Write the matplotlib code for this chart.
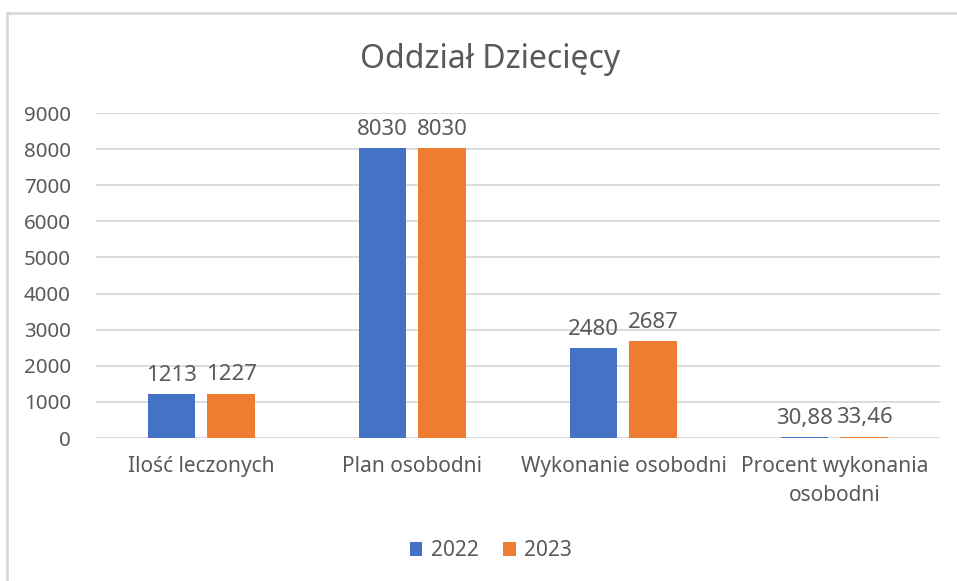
import numpy as np
import matplotlib.pyplot as plt
from matplotlib.lines import Line2D

# data
categories = ["Ilość leczonych", "Plan osobodni", "Wykonanie osobodni", "Procent wykonania\nosobodni"]
years = ["2022", "2023"]
values_2022 = [1213, 8030, 2480, 30.88]
values_2023 = [1227, 8030, 2687, 33.46]
labels_2022 = ["1213", "8030", "2480", "30,88"]
labels_2023 = ["1227", "8030", "2687", "33,46"]

BLUE = "#4472C4"
ORANGE = "#ED7D31"
TEXT = "#595959"
GRID = "#D9D9D9"

plt.rcParams['font.family'] = ['Noto Sans', 'DejaVu Sans']

fig = plt.figure(figsize=(9.57, 5.81), dpi=100)
ax = fig.add_axes([0.1003, 0.2461, 0.8819, 0.5594])

x = np.arange(len(categories))
w = 0.227
off = (w + 0.057) / 2
b1 = ax.bar(x - off, values_2022, w, color=BLUE, label=years[0], zorder=3)
b2 = ax.bar(x + off, values_2023, w, color=ORANGE, label=years[1], zorder=3)

for bars, labs in [(b1, labels_2022), (b2, labels_2023)]:
    for b, lab in zip(bars, labs):
        ax.annotate(lab, (b.get_x() + b.get_width() / 2, b.get_height()),
                    xytext=(0, 6), textcoords="offset points",
                    ha="center", va="bottom", fontsize=16, color=TEXT)

ax.set_xlim(-0.5, len(categories) - 0.5)
ax.set_ylim(0, 9000)
ax.set_yticks(range(0, 9001, 1000))
ax.yaxis.grid(True, color=GRID, linewidth=1.3, zorder=0)
ax.set_axisbelow(True)
for s in ax.spines.values():
    s.set_visible(False)
ax.tick_params(axis="both", length=0, colors=TEXT)
ax.tick_params(axis="y", pad=18, labelsize=14.8)
ax.tick_params(axis="x", pad=13, labelsize=15)
ax.set_xticks(x)
ax.set_xticklabels(categories, linespacing=1.5)

fig.text(0.512, 0.897, "Oddział Dziecięcy", ha="center", va="center", fontsize=23, color=TEXT)

leg = fig.legend(loc="center", bbox_to_anchor=(0.513, 0.052), ncol=2, frameon=False,
                 fontsize=15, handlelength=0.6, handleheight=0.6, handletextpad=0.4,
                 columnspacing=1.2)
for t in leg.get_texts():
    t.set_color(TEXT)

# outer frame: only left and top edges visible
fig.add_artist(Line2D([0.0078, 0.0078], [0, 0.978], color="#D9D9D9", linewidth=2, transform=fig.transFigure))
fig.add_artist(Line2D([0.0078, 1.0], [0.978, 0.978], color="#D9D9D9", linewidth=2, transform=fig.transFigure))

fig.savefig("out.png", dpi=100)
